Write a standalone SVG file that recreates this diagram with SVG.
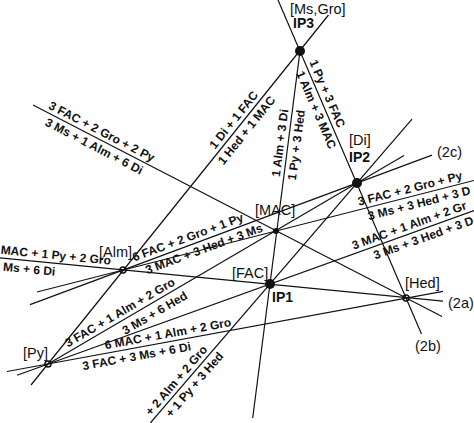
<svg xmlns="http://www.w3.org/2000/svg" width="474" height="423" viewBox="0 0 474 423">
<style>
.ln{stroke:#111;stroke-width:1.2;fill:none}
.lbl{font-family:"Liberation Sans",Arial,sans-serif;font-size:14.5px;fill:#111}
.ip{font-family:"Liberation Sans",Arial,sans-serif;font-size:14px;font-weight:bold;fill:#111}
.rx{font-family:"Liberation Sans",Arial,sans-serif;font-size:12px;font-weight:bold;fill:#111;text-anchor:middle}
.rs{text-anchor:start}
.big{fill:#111}
.ring{fill:none;stroke:#111;stroke-width:1.5}
</style>
<rect width="474" height="423" fill="#fff"/>
<g id="connectors">
<line id="lineA" class="ln" x1="278" y1="0" x2="421.5" y2="334"/>
<line id="lineB" class="ln" x1="328.5" y1="15" x2="31" y2="385"/>
<line id="lineC" class="ln" x1="300" y1="51" x2="252.7" y2="418"/>
<line id="lineD" class="ln" x1="33" y1="105" x2="442" y2="316.5"/>
<line id="lineE" class="ln" x1="0" y1="257.8" x2="443" y2="301.2"/>
<line id="lineF" class="ln" x1="37" y1="292" x2="474" y2="180.5"/>
<line id="lineG" class="ln" x1="30" y1="304.6" x2="432" y2="155.1"/>
<line id="lineH" class="ln" x1="48" y1="364" x2="404" y2="155.5"/>
<line id="lineI" class="ln" x1="17" y1="375.2" x2="474" y2="210.5"/>
<line id="lineJ" class="ln" x1="150.3" y1="423" x2="412" y2="119.1"/>
<line id="lineK" class="ln" x1="7" y1="371.5" x2="443" y2="291.3"/>
</g>
<g id="reaction-labels">
<g transform="translate(240,125) rotate(-51.16)"><text class="rx" y="-4">1 Di + 1 FAC</text><text class="rx" y="12.5">1 Hed + 1 MAC</text></g>
<g transform="translate(288,144) rotate(-82.66)"><text class="rx" y="-4">1 Alm + 3 Di</text><text class="rx" y="12.5">1 Py + 3 Hed</text></g>
<text class="rx" transform="translate(319.8,96.9) rotate(66.65)" y="-4">1 Py + 3 FAC</text>
<text class="rx" transform="translate(324,106.5) rotate(66.65)" y="12.5">1 Alm + 3 MAC</text>
<g transform="translate(98,138.7) rotate(27.4)"><text class="rx" y="-4">3 FAC + 2 Gro + 2 Py</text><text class="rx" y="12.5">3 Ms + 1 Alm + 6 Di</text></g>
<text class="rx" transform="translate(190.6,244.9) rotate(-20.4)" y="-4">6 FAC + 2 Gro + 1 Py</text>
<text class="rx" transform="translate(201,241) rotate(-20.4)" y="12.5">3 MAC + 3 Hed + 3 Ms</text>
<text class="rx" transform="translate(123.9,319.5) rotate(-30.36)" y="-4">3 FAC + 1 Alm + 2 Gro</text>
<text class="rx" transform="translate(149.8,304.4) rotate(-30.36)" y="14">3 Ms + 6 Hed</text>
<text class="rx" transform="translate(169.3,341.6) rotate(-10.45)" y="-4">6 MAC + 1 Alm + 2 Gro</text>
<text class="rx" transform="translate(135.1,347.9) rotate(-10.45)" y="12.5">3 FAC + 3 Ms + 6 Di</text>
<text class="rx" transform="translate(182.4,385.7) rotate(-49.26)" y="-4">+ 2 Alm + 2 Gro</text>
<text class="rx" transform="translate(188,379) rotate(-49.26)" y="12.5">+ 1 Py + 3 Hed</text>
<text class="rx rs" transform="translate(355,253.4) rotate(-19.82)" y="-4">3 MAC + 1 Alm + 2 Gr</text>
<text class="rx rs" transform="translate(371,247.7) rotate(-19.82)" y="12.5">3 Ms + 3 Hed + 3 D</text>
<text class="rx rs" transform="translate(360,209.6) rotate(-14.3)" y="-4">3 FAC + 2 Gro + Py</text>
<text class="rx rs" transform="translate(366,208.1) rotate(-14.3)" y="12.5">3 Ms + 3 Hed + 3 D</text>
<text class="rx rs" transform="translate(0,257.8) rotate(5.65)" y="-4">MAC + 1 Py + 2 Gro</text>
<text class="rx rs" transform="translate(4,258.2) rotate(5.65)" y="12.5">Ms + 6 Di</text>
</g>
<g id="IP3"><circle class="big" cx="300" cy="51" r="5"/><text class="lbl" x="290" y="13.5">[Ms,Gro]</text><text class="ip" x="293" y="28">IP3</text></g>
<g id="IP2"><circle class="big" cx="357" cy="183" r="5"/><text class="lbl" x="349" y="145">[Di]</text><text class="ip" x="349" y="162">IP2</text></g>
<g id="IP1"><circle class="big" cx="270" cy="284" r="5"/><text class="lbl" x="232" y="278">[FAC]</text><text class="ip" x="272" y="302">IP1</text></g>
<g id="MAC"><circle class="big" cx="276" cy="231" r="3"/><text class="lbl" x="255" y="215">[MAC]</text></g>
<g id="Alm"><circle class="ring" cx="123" cy="270" r="3"/><text class="lbl" x="99" y="257">[Alm]</text></g>
<g id="Hed"><circle class="ring" cx="406" cy="298" r="3"/><text class="lbl" x="405" y="288">[Hed]</text></g>
<g id="Py"><circle class="ring" cx="48" cy="364" r="3"/><text class="lbl" x="23" y="358">[Py]</text></g>
<g id="end-labels"><text class="lbl" x="448" y="308">(2a)</text><text class="lbl" x="415" y="351">(2b)</text><text class="lbl" x="437" y="157">(2c)</text></g>
</svg>
